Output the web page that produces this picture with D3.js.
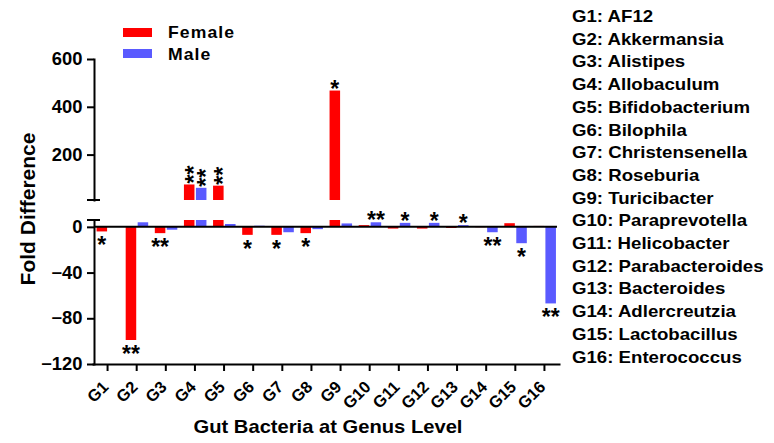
<!DOCTYPE html>
<html>
<head>
<meta charset="utf-8">
<script src="https://cdn.jsdelivr.net/npm/d3@7"></script>
<style>
body { margin: 0; background: #fff; }
text { font-family: "Liberation Sans", Arial, Helvetica, sans-serif; font-weight: bold; fill: #000; }
</style>
</head>
<body>
<svg id="chart" width="774" height="443"></svg>
<script>
var groups = ["G1", "G2", "G3", "G4", "G5", "G6", "G7", "G8", "G9", "G10", "G11", "G12", "G13", "G14", "G15", "G16"];
var genusNames = ["AF12", "Akkermansia", "Alistipes", "Allobaculum", "Bifidobacterium", "Bilophila",
    "Christensenella", "Roseburia", "Turicibacter", "Paraprevotella", "Helicobacter", "Parabacteroides",
    "Bacteroides", "Adlercreutzia", "Lactobacillus", "Enterococcus"];
var seriesNames = ["Female", "Male"];
var female = [-4, -99, -5.5, 75, 70, -7, -7, -5.5, 468, 1.5, -1.5, -1.5, -1, -0.3, 3.2, 0.8];
var male = [0.5, 4, -2.5, 61, 2.5, 1, -4.7, -2, 3, 4, 3.5, 3.5, 1.5, -4.7, -14.3, -67];
var femaleSig = ["*", "**", "**", "**", "**", "*", "*", "*", "*", "", "", "", "", "", "", ""];
var maleSig = ["", "", "", "**", "", "", "", "", "", "**", "*", "*", "*", "**", "*", "**"];
var upperTicks = [200, 400, 600];
var lowerTicks = [-120, -80, -40, 0];
var colors = { Female: "#ff0000", Male: "#5a5aff" };

var svg = d3.select("#chart");

// broken y axis: two linear segments
var yTop = d3.scaleLinear().domain([10, 600]).range([200, 59]);
var yBot = d3.scaleLinear().domain([-120, 6]).range([364, 220]);
var x = d3.scaleBand().domain(groups).range([93, 559]).padding(0);
var xs = d3.scaleBand().domain(seriesNames).range([-11, 11.5]).paddingInner(0.12);

var rows = [];
groups.forEach(function (g, i) {
    rows.push({ g: g, s: "Female", v: female[i], sig: femaleSig[i] });
    rows.push({ g: g, s: "Male", v: male[i], sig: maleSig[i] });
});

var bars = svg.append("g");
rows.forEach(function (d) {
    var bx = x(d.g) + x.bandwidth() / 2 + xs(d.s);
    var lo = Math.max(Math.min(d.v, 6), -120);
    bars.append("rect")
        .attr("x", bx)
        .attr("y", Math.min(yBot(lo), yBot(0)))
        .attr("width", xs.bandwidth())
        .attr("height", Math.abs(yBot(lo) - yBot(0)))
        .style("fill", colors[d.s]);
    if (d.v > 10) {
        bars.append("rect")
            .attr("x", bx)
            .attr("y", yTop(d.v))
            .attr("width", xs.bandwidth())
            .attr("height", yTop(10) - yTop(d.v))
            .style("fill", colors[d.s]);
    }
});

// significance stars
var stars = svg.append("g").style("font-size", "23px");
rows.forEach(function (d) {
    if (!d.sig) return;
    var cx = x(d.g) + x.bandwidth() / 2 + xs(d.s) + xs.bandwidth() / 2;
    if (d.v > 10 && d.sig.length > 1) {
        stars.append("text")
            .attr("text-anchor", "start")
            .attr("transform", "translate(" + (cx + 13) + "," + (yTop(d.v) - 1) + ") rotate(-90)")
            .text(d.sig);
    } else if (d.v > 10) {
        stars.append("text")
            .attr("text-anchor", "middle")
            .attr("x", cx)
            .attr("y", yTop(d.v) + 6)
            .text(d.sig);
    } else if (d.v >= 0) {
        stars.append("text")
            .attr("text-anchor", "middle")
            .attr("x", cx)
            .attr("y", yBot(Math.min(d.v, 6)) + 6)
            .text(d.sig);
    } else {
        stars.append("text")
            .attr("text-anchor", "middle")
            .attr("x", cx)
            .attr("y", yBot(d.v) + 22)
            .text(d.sig);
    }
});

// zero line
svg.append("line")
    .attr("x1", 94).attr("x2", 557)
    .attr("y1", yBot(0)).attr("y2", yBot(0))
    .style("stroke", "#000").style("stroke-width", 2);

function styleAxis(g) {
    g.selectAll("path, line").style("stroke", "#000").style("stroke-width", 2);
    g.selectAll("text").style("font-size", "17.5px");
}

var axTop = svg.append("g").attr("transform", "translate(94,0)")
    .call(d3.axisLeft(yTop).tickValues(upperTicks).tickSize(7).tickSizeOuter(0).tickPadding(4));
var axBot = svg.append("g").attr("transform", "translate(94,0)")
    .call(d3.axisLeft(yBot).tickValues(lowerTicks).tickSize(7).tickSizeOuter(0).tickPadding(4));
[axTop, axBot].forEach(function (g) {
    styleAxis(g);
    g.selectAll("text").attr("transform", "scale(1.05,1)");
});

// break caps
[yTop(10), yBot(6)].forEach(function (yy) {
    svg.append("line")
        .attr("x1", 87).attr("x2", 100)
        .attr("y1", yy).attr("y2", yy)
        .style("stroke", "#000").style("stroke-width", 2);
});

var axX = svg.append("g").attr("transform", "translate(0,364)")
    .call(d3.axisBottom(x).tickSize(7).tickSizeOuter(0));
styleAxis(axX);
axX.selectAll("text")
    .style("font-size", "16.5px")
    .attr("x", 0).attr("y", 0).attr("dy", null)
    .attr("text-anchor", "end")
    .attr("transform", "translate(2,24) rotate(-45)");
svg.selectAll(".domain").style("stroke-linecap", "square");

// titles
svg.append("text")
    .attr("text-anchor", "middle")
    .attr("transform", "translate(328,433) scale(1.12,1)")
    .style("font-size", "18px")
    .text("Gut Bacteria at Genus Level");
svg.append("text")
    .attr("text-anchor", "middle")
    .attr("transform", "translate(35,209) rotate(-90)")
    .style("font-size", "21px")
    .text("Fold Difference");

// legend
seriesNames.forEach(function (s, i) {
    svg.append("rect")
        .attr("x", 123).attr("y", 28 + i * 21)
        .attr("width", 29).attr("height", 9)
        .style("fill", colors[s]);
    svg.append("text")
        .attr("transform", "translate(168," + (38 + i * 21.7) + ") scale(1.1,1)")
        .style("font-size", "16px")
        .style("letter-spacing", "1px")
        .text(s);
});

// genus key on the right
var key = svg.append("g");
groups.forEach(function (g, i) {
    key.append("text")
        .attr("transform", "translate(572," + (22 + i * 22.7) + ") scale(1.13,1)")
        .style("font-size", "16.5px")
        .text(g + ": " + genusNames[i]);
});
</script>
</body>
</html>
